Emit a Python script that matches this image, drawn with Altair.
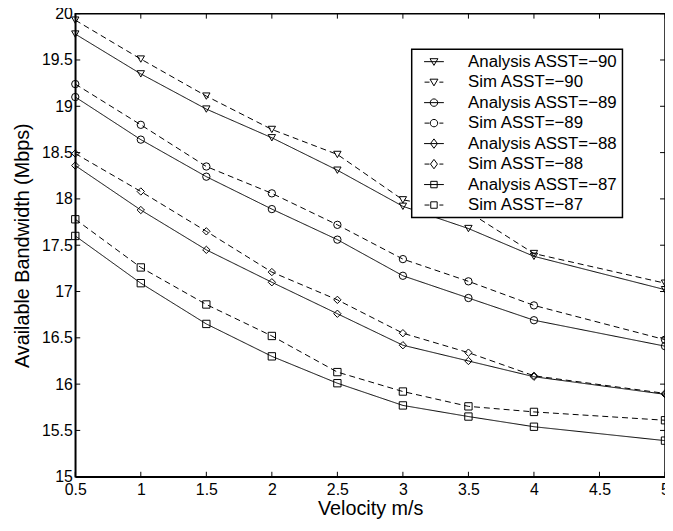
import altair as alt
import pandas as pd

# ---- data ----
x_vals = [0.5, 1, 1.5, 2, 2.5, 3, 3.5, 4, 5]

analysis_m90 = [19.78, 19.35, 18.97, 18.66, 18.31, 17.92, 17.68, 17.38, 17.02]
sim_m90 = [19.93, 19.51, 19.11, 18.75, 18.48, 17.99, 17.86, 17.41, 17.09]
analysis_m89 = [19.10, 18.64, 18.24, 17.89, 17.56, 17.17, 16.93, 16.69, 16.41]
sim_m89 = [19.24, 18.80, 18.35, 18.06, 17.72, 17.35, 17.11, 16.85, 16.48]
analysis_m88 = [18.36, 17.88, 17.45, 17.10, 16.76, 16.42, 16.25, 16.08, 15.89]
sim_m88 = [18.49, 18.08, 17.65, 17.21, 16.91, 16.55, 16.34, 16.09, 15.90]
analysis_m87 = [17.60, 17.09, 16.65, 16.30, 16.01, 15.77, 15.65, 15.54, 15.39]
sim_m87 = [17.78, 17.26, 16.86, 16.52, 16.13, 15.92, 15.76, 15.70, 15.61]

asst_levels = ["−90", "−89", "−88", "−87"]
kinds = ["Analysis", "Sim"]
series_labels = [
    "Analysis ASST=−90", "Sim ASST=−90",
    "Analysis ASST=−89", "Sim ASST=−89",
    "Analysis ASST=−88", "Sim ASST=−88",
    "Analysis ASST=−87", "Sim ASST=−87",
]
x_ticks = [0.5, 1, 1.5, 2, 2.5, 3, 3.5, 4, 4.5, 5]
y_ticks = [15, 15.5, 16, 16.5, 17, 17.5, 18, 18.5, 19, 19.5, 20]

series_values = [analysis_m90, sim_m90, analysis_m89, sim_m89,
                 analysis_m88, sim_m88, analysis_m87, sim_m87]

rows = []
for i, (label, vals) in enumerate(zip(series_labels, series_values)):
    kind = kinds[i % 2]
    asst = asst_levels[i // 2]
    for xv, yv in zip(x_vals, vals):
        rows.append({"x": xv, "y": yv, "series": label, "kind": kind, "asst": asst})
df = pd.DataFrame(rows)

# ---- styling ----
W, H = 596, 468
FONT = "Liberation Sans"
TICK = 5

# legend symbols: line segment (solid / dashed) with marker
marker_paths = [
    "M-0.8,-0.6L0.8,-0.6L0,0.75Z",                                   # triangle down
    "M-0.75,0A0.75,0.75,0,1,1,0.75,0A0.75,0.75,0,1,1,-0.75,0Z",      # circle
    "M0,-0.95L0.7,0L0,0.95L-0.7,0Z",                                 # diamond
    "M-0.65,-0.65H0.65V0.65H-0.65Z",                                 # square
]
solid_seg = "M-2,0H2"
dash_seg = "M-1.9,0H-0.9M1.1,0H1.9"
legend_paths = []
for m in marker_paths:
    legend_paths.append(solid_seg + m)
    legend_paths.append(dash_seg + m)

xscale = alt.Scale(domain=[0.5, 5], nice=False, zero=False)
yscale = alt.Scale(domain=[15, 20], nice=False, zero=False)

xaxis = alt.Axis(values=x_ticks, format=".1~f", title="Velocity m/s", ticks=False,
                 grid=False, domain=True, domainColor="black", domainWidth=1.5,
                 labelFont=FONT, labelFontSize=16, labelColor="black", labelPadding=5,
                 labelFlush=False, labelOverlap=False,
                 titleFont=FONT, titleFontSize=20, titleFontWeight="normal",
                 titleColor="black", titlePadding=1)
yaxis = alt.Axis(values=y_ticks, format=".1~f", title="Available Bandwidth (Mbps)", ticks=False,
                 grid=False, domain=True, domainColor="black", domainWidth=1.5,
                 labelFont=FONT, labelFontSize=16, labelColor="black", labelPadding=3,
                 labelFlush=False, labelOverlap=False,
                 titleFont=FONT, titleFontSize=20, titleFontWeight="normal",
                 titleColor="black", titlePadding=9)

X = alt.X("x:Q", scale=xscale, axis=xaxis)
Y = alt.Y("y:Q", scale=yscale, axis=yaxis)

lines = alt.Chart(df).mark_line(color="black", strokeWidth=1).encode(
    x=X, y=Y,
    detail="series:N",
    strokeDash=alt.StrokeDash("kind:N", scale=alt.Scale(domain=kinds, range=[[1, 0], [6, 4]]),
                              legend=None),
)

points = alt.Chart(df).mark_point(filled=False, color="black", size=55, strokeWidth=1,
                                  opacity=1).encode(
    x=X, y=Y,
    shape=alt.Shape("asst:N", scale=alt.Scale(domain=asst_levels,
                                              range=["triangle-down", "circle", "diamond", "square"]),
                    legend=None),
)

legend_layer = alt.Chart(df).transform_filter("datum.x < 0").mark_point(
    filled=False, color="black", strokeWidth=1, opacity=1).encode(
    x=X, y=Y,
    shape=alt.Shape("series:N", scale=alt.Scale(domain=series_labels, range=legend_paths),
                    legend=alt.Legend(title=None, orient="none", legendX=340, legendY=36,
                                      padding=4, strokeColor="black", fillColor="white",
                                      symbolSize=100, symbolStrokeWidth=1,
                                      symbolStrokeColor="black", symbolOffset=10,
                                      labelOffset=26, labelFont=FONT, labelFontSize=17,
                                      labelColor="black", rowPadding=2.7, labelLimit=400)),
)

xt = pd.DataFrame({"x": x_ticks})
yt = pd.DataFrame({"y": y_ticks})
tick_bottom = alt.Chart(xt).mark_rule(color="black", strokeWidth=1).encode(
    x=X, y=alt.value(H), y2=alt.value(H - TICK))
tick_top = alt.Chart(xt).mark_rule(color="black", strokeWidth=1).encode(
    x=X, y=alt.value(0), y2=alt.value(TICK))
tick_left = alt.Chart(yt).mark_rule(color="black", strokeWidth=1).encode(
    y=Y, x=alt.value(0), x2=alt.value(TICK))
tick_right = alt.Chart(yt).mark_rule(color="black", strokeWidth=1).encode(
    y=Y, x=alt.value(W), x2=alt.value(W - TICK))

chart = alt.layer(
    tick_bottom, tick_top, tick_left, tick_right, lines, points, legend_layer
).resolve_scale(shape="independent").properties(
    width=W, height=H,
    autosize=alt.AutoSizeParams(type="none"),
    padding={"left": 68, "top": 3, "right": 0, "bottom": 43},
    background="white",
).configure_view(
    stroke="black", strokeWidth=1.5
).configure_legend(
    strokeWidth=1.5
)

chart.save("out.html", embed_options={"renderer": "svg", "actions": False})
